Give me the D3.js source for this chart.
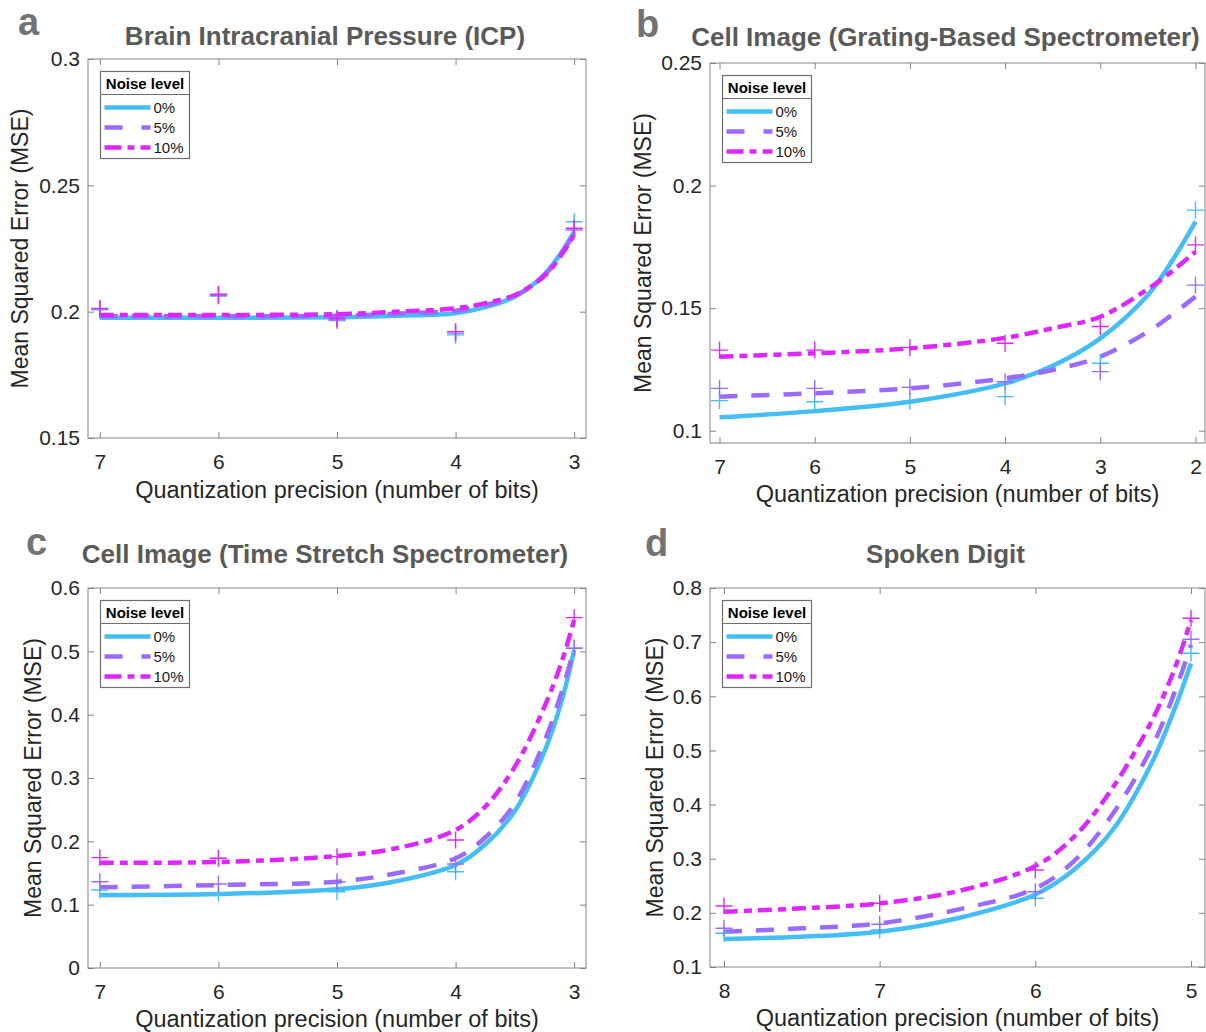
<!DOCTYPE html>
<html>
<head>
<meta charset="utf-8">
<script src="https://cdn.jsdelivr.net/npm/d3@7"></script>
<style>
  html, body { margin: 0; padding: 0; background: #fff; }
  svg { display: block; font-family: "Liberation Sans", Arial, sans-serif; }
</style>
</head>
<body>
<svg id="chart" width="1206" height="1032"></svg>
<script>
// ---------------- DATA ----------------
const noiseLevels = ["0%", "5%", "10%"];
const legendTitle = "Noise level";
const xAxisLabel = "Quantization precision (number of bits)";
const yAxisLabel = "Mean Squared Error (MSE)";

// Panel a
const aLetter = "a";
const aTitle = "Brain Intracranial Pressure (ICP)";
const aBits = [7, 6, 5, 4, 3];
const aMse0 = [0.2007, 0.2062, 0.1965, 0.1908, 0.2356];
const aMse5 = [0.2010, 0.2064, 0.1968, 0.1915, 0.2323];
const aMse10 = [0.2013, 0.2069, 0.1974, 0.1921, 0.2330];
const aFitBits = [7, 6, 5, 4.5, 4, 3.75, 3.5, 3.25, 3.1, 3];
const aFit0 = [0.1976, 0.1976, 0.1978, 0.1984, 0.1994, 0.2018, 0.2059, 0.2148, 0.2240, 0.2317];
const aFit5 = [0.1982, 0.1982, 0.1984, 0.1992, 0.2004, 0.2026, 0.2062, 0.2145, 0.2234, 0.2310];
const aFit10 = [0.1987, 0.1987, 0.1990, 0.2000, 0.2013, 0.2034, 0.2066, 0.2142, 0.2230, 0.2304];
const aXTicks = [7, 6, 5, 4, 3];
const aYTicks = [0.15, 0.2, 0.25, 0.3];
const aYTickLabels = ["0.15", "0.2", "0.25", "0.3"];

// Panel b
const bLetter = "b";
const bTitle = "Cell Image (Grating-Based Spectrometer)";
const bBits = [7, 6, 5, 4, 3, 2];
const bMse0 = [0.1123, 0.1118, 0.1120, 0.1139, 0.1275, 0.1900];
const bMse5 = [0.1173, 0.1173, 0.1177, 0.1200, 0.1241, 0.1594];
const bMse10 = [0.1329, 0.1329, 0.1339, 0.1357, 0.1425, 0.1758];
const bFitBits = [7, 6, 5, 4, 3.5, 3, 2.5, 2.25, 2];
const bFit0 = [0.1055, 0.1080, 0.1118, 0.1193, 0.1265, 0.1377, 0.1554, 0.1690, 0.1853];
const bFit5 = [0.1139, 0.1153, 0.1173, 0.1214, 0.1248, 0.1302, 0.1404, 0.1472, 0.1547];
const bFit10 = [0.1302, 0.1316, 0.1336, 0.1379, 0.1418, 0.1465, 0.1578, 0.1649, 0.1730];
const bXTicks = [7, 6, 5, 4, 3, 2];
const bYTicks = [0.1, 0.15, 0.2, 0.25];
const bYTickLabels = ["0.1", "0.15", "0.2", "0.25"];

// Panel c
const cLetter = "c";
const cTitle = "Cell Image (Time Stretch Spectrometer)";
const cBits = [7, 6, 5, 4, 3];
const cMse0 = [0.1232, 0.1180, 0.1205, 0.1520, 0.5048];
const cMse5 = [0.1363, 0.1326, 0.1363, 0.1642, 0.5048];
const cMse10 = [0.1742, 0.1732, 0.1758, 0.2021, 0.5532];
const cFitBits = [7, 6, 5, 4.5, 4, 3.75, 3.5, 3.25, 3.1, 3];
const cFit0 = [0.1153, 0.1168, 0.1242, 0.1370, 0.1626, 0.1950, 0.2480, 0.3420, 0.4250, 0.5021];
const cFit5 = [0.1274, 0.1310, 0.1363, 0.1495, 0.1732, 0.2060, 0.2600, 0.3580, 0.4390, 0.5048];
const cFit10 = [0.1663, 0.1674, 0.1768, 0.1890, 0.2179, 0.2547, 0.3179, 0.4126, 0.4863, 0.5495];
const cXTicks = [7, 6, 5, 4, 3];
const cYTicks = [0, 0.1, 0.2, 0.3, 0.4, 0.5, 0.6];
const cYTickLabels = ["0", "0.1", "0.2", "0.3", "0.4", "0.5", "0.6"];

// Panel d
const dLetter = "d";
const dTitle = "Spoken Digit";
const dBits = [8, 7, 6, 5];
const dMse0 = [0.1622, 0.1683, 0.2269, 0.6794];
const dMse5 = [0.1715, 0.1789, 0.2391, 0.7053];
const dMse10 = [0.2127, 0.2177, 0.2792, 0.7441];
const dFitBits = [8, 7.5, 7, 6.5, 6, 5.75, 5.5, 5.25, 5.1, 5];
const dFit0 = [0.1517, 0.1560, 0.1652, 0.1900, 0.2340, 0.2800, 0.3540, 0.4780, 0.5808, 0.6606];
const dFit5 = [0.1652, 0.1714, 0.1806, 0.2060, 0.2452, 0.2960, 0.3839, 0.5069, 0.6116, 0.6948];
const dFit10 = [0.2022, 0.2083, 0.2176, 0.2400, 0.2866, 0.3407, 0.4325, 0.5558, 0.6546, 0.7409];
const dXTicks = [8, 7, 6, 5];
const dYTicks = [0.1, 0.2, 0.3, 0.4, 0.5, 0.6, 0.7, 0.8];
const dYTickLabels = ["0.1", "0.2", "0.3", "0.4", "0.5", "0.6", "0.7", "0.8"];

// ---------------- STYLE / LAYOUT ----------------
const seriesColors = ["#45BEF5", "#9B6BFF", "#DC28FF"];
const seriesDash = [null, "18,14", "14,6,8,6"];
const legendDash = [null, "18,19", "17,6,7,6"];

const panels = [
  { letter: aLetter, title: aTitle, bits: aBits, mse: [aMse0, aMse5, aMse10],
    fitBits: aFitBits, fit: [aFit0, aFit5, aFit10], xTicks: aXTicks, yTicks: aYTicks, yLabels: aYTickLabels,
    box: { l: 88, r: 586, t: 59, b: 438 }, xDom: [7.1, 2.9], yDom: [0.15, 0.3],
    letterPos: [18, 35], titleY: 45, xlabY: 498, ylabX: 28 },
  { letter: bLetter, title: bTitle, bits: bBits, mse: [bMse0, bMse5, bMse10],
    fitBits: bFitBits, fit: [bFit0, bFit5, bFit10], xTicks: bXTicks, yTicks: bYTicks, yLabels: bYTickLabels,
    box: { l: 710, r: 1205, t: 63, b: 443 }, xDom: [7.1, 1.9], yDom: [0.095, 0.25],
    letterPos: [636, 37], titleY: 46, xlabY: 502, ylabX: 651 },
  { letter: cLetter, title: cTitle, bits: cBits, mse: [cMse0, cMse5, cMse10],
    fitBits: cFitBits, fit: [cFit0, cFit5, cFit10], xTicks: cXTicks, yTicks: cYTicks, yLabels: cYTickLabels,
    box: { l: 88, r: 586, t: 588, b: 968 }, xDom: [7.1, 2.9], yDom: [0, 0.6],
    letterPos: [26, 555], titleY: 563, xlabY: 1027, ylabX: 41 },
  { letter: dLetter, title: dTitle, bits: dBits, mse: [dMse0, dMse5, dMse10],
    fitBits: dFitBits, fit: [dFit0, dFit5, dFit10], xTicks: dXTicks, yTicks: dYTicks, yLabels: dYTickLabels,
    box: { l: 710, r: 1205, t: 588, b: 967 }, xDom: [8.09, 4.91], yDom: [0.1, 0.8],
    letterPos: [645, 556], titleY: 563, xlabY: 1026, ylabX: 663 }
];

const svg = d3.select("#chart");
const tickColor = "#262626";
const frameColor = "#858585";

panels.forEach(p => {
  const B = p.box;
  const x = d3.scaleLinear().domain(p.xDom).range([B.l, B.r]);
  const y = d3.scaleLinear().domain(p.yDom).range([B.b, B.t]);
  const g = svg.append("g");

  // frame
  g.append("rect").attr("x", B.l).attr("y", B.t).attr("width", B.r - B.l).attr("height", B.b - B.t)
    .attr("fill", "#fff").attr("stroke", frameColor).attr("stroke-width", 1);

  // axes
  const styleAxis = sel => {
    sel.select(".domain").remove();
    sel.selectAll(".tick line").attr("stroke", frameColor).attr("stroke-width", 1);
    sel.selectAll(".tick text").attr("fill", tickColor).attr("font-size", 21)
      .attr("font-family", "Liberation Sans, Arial, sans-serif");
  };
  g.append("g").attr("transform", `translate(0,${B.b})`)
    .call(d3.axisBottom(x).tickValues(p.xTicks).tickFormat(d3.format("d")).tickSizeInner(-6).tickSizeOuter(0).tickPadding(16))
    .call(styleAxis);
  g.append("g").attr("transform", `translate(0,${B.t})`)
    .call(d3.axisTop(x).tickValues(p.xTicks).tickFormat("").tickSizeInner(-6).tickSizeOuter(0))
    .call(styleAxis);
  g.append("g").attr("transform", `translate(${B.l},0)`)
    .call(d3.axisLeft(y).tickValues(p.yTicks).tickFormat((d, i) => p.yLabels[i]).tickSizeInner(-6).tickSizeOuter(0).tickPadding(8))
    .call(styleAxis);
  g.append("g").attr("transform", `translate(${B.r},0)`)
    .call(d3.axisRight(y).tickValues(p.yTicks).tickFormat("").tickSizeInner(-6).tickSizeOuter(0))
    .call(styleAxis);

  // fitted curves
  const line = d3.line().x(d => x(d[0])).y(d => y(d[1])).curve(d3.curveCatmullRom.alpha(0.5));
  p.fit.forEach((vals, si) => {
    const pts = p.fitBits.map((b, i) => [b, vals[i]]);
    g.append("path").datum(pts).attr("d", line)
      .attr("fill", "none").attr("stroke", seriesColors[si]).attr("stroke-width", 4.5)
      .attr("stroke-dasharray", seriesDash[si]);
  });

  // markers (+)
  const arm = 8.5;
  p.mse.forEach((vals, si) => {
    const mg = g.append("g");
    p.bits.forEach((b, i) => {
      const cx = x(b), cy = y(vals[i]);
      mg.append("path").attr("d", `M${cx - arm},${cy}H${cx + arm}M${cx},${cy - arm}V${cy + arm}`)
        .attr("stroke", seriesColors[si]).attr("stroke-width", 1.4).attr("fill", "none");
    });
  });

  // legend
  const lx = B.l + 12.5, ly = B.t + 12.5, lw = 89, lh = 87;
  const lg = g.append("g");
  lg.append("rect").attr("x", lx).attr("y", ly).attr("width", lw).attr("height", lh)
    .attr("fill", "#fff").attr("stroke", "#6e6e6e").attr("stroke-width", 1.2);
  lg.append("line").attr("x1", lx).attr("x2", lx + lw).attr("y1", ly + 23).attr("y2", ly + 23)
    .attr("stroke", "#6e6e6e").attr("stroke-width", 1.2);
  lg.append("text").attr("x", lx + lw / 2).attr("y", ly + 17.5).attr("text-anchor", "middle")
    .attr("font-size", 15).attr("font-weight", "bold").attr("fill", "#000").text(legendTitle);
  noiseLevels.forEach((lab, si) => {
    const ry = ly + 36 + si * 20;
    lg.append("line").attr("x1", lx + 4).attr("x2", lx + 50).attr("y1", ry).attr("y2", ry)
      .attr("stroke", seriesColors[si]).attr("stroke-width", 4.5).attr("stroke-dasharray", legendDash[si]);
    lg.append("text").attr("x", lx + 53).attr("y", ry + 5.5).attr("font-size", 15).attr("fill", "#1a1a1a").text(lab);
  });

  // title
  const cx = (B.l + B.r) / 2;
  svg.append("text").attr("x", cx - 12).attr("y", p.titleY).attr("text-anchor", "middle")
    .attr("font-size", 26).attr("font-weight", "bold").attr("fill", "#5a5a5a").text(p.title);
  // panel letter
  svg.append("text").attr("x", p.letterPos[0]).attr("y", p.letterPos[1])
    .attr("font-size", 38).attr("font-weight", "bold").attr("fill", "#737373").text(p.letter);
  // x label
  svg.append("text").attr("x", cx).attr("y", p.xlabY).attr("text-anchor", "middle")
    .attr("font-size", 23.5).attr("fill", tickColor).text(xAxisLabel);
  // y label
  const cy = (B.t + B.b) / 2;
  svg.append("text").attr("transform", `translate(${p.ylabX},${cy}) rotate(-90)`)
    .attr("text-anchor", "middle").attr("font-size", 23).attr("fill", tickColor).text(yAxisLabel);
});
</script>
</body>
</html>
